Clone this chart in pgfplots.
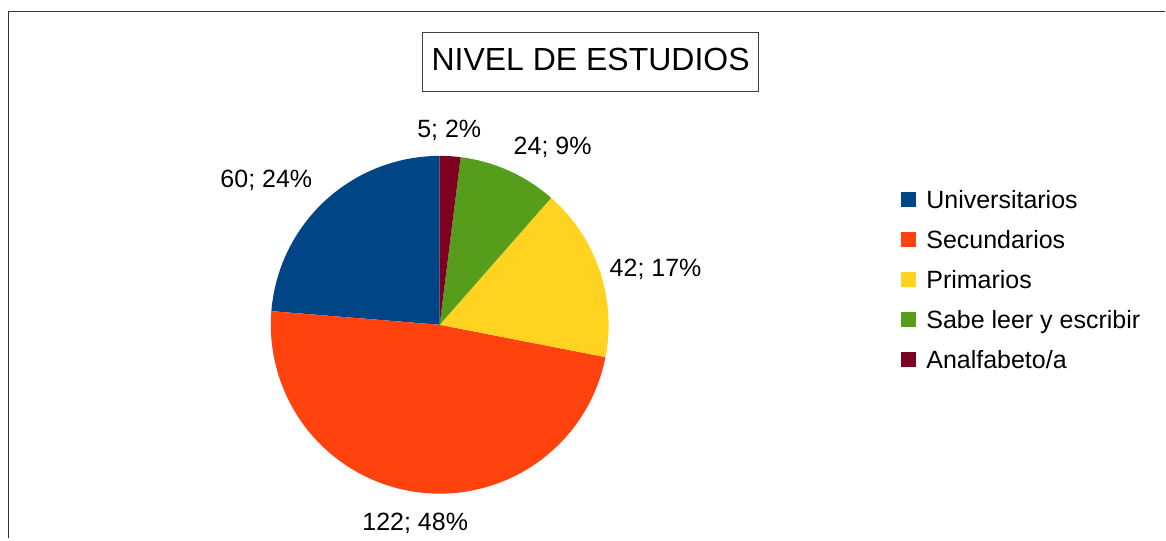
\documentclass[border=0pt]{standalone}
\usepackage{fontspec}
\setmainfont{Liberation Sans}
\usepackage{pgfplots}
\pgfplotsset{compat=1.18}
\definecolor{cuni}{HTML}{004586}
\definecolor{csec}{HTML}{FF420E}
\definecolor{cpri}{HTML}{FFD320}
\definecolor{csab}{HTML}{579D1C}
\definecolor{cana}{HTML}{7E0021}
% data (counts)
\def\vA{60}\def\vB{122}\def\vC{42}\def\vD{24}\def\vE{5}
\pgfmathsetmacro\tot{\vA+\vB+\vC+\vD+\vE}
\pgfmathsetmacro\aA{90}
\pgfmathsetmacro\aB{\aA+360*(\vA/\tot)}
\pgfmathsetmacro\aC{\aB+360*(\vB/\tot)}
\pgfmathsetmacro\aD{\aC+360*(\vC/\tot)}
\pgfmathsetmacro\aE{\aD+360*(\vD/\tot)}
\pgfmathsetmacro\aF{450}
\newcommand{\lblfont}{\fontsize{12.5}{15}\selectfont}
\begin{document}
\begin{tikzpicture}
\begin{axis}[
  width=583pt, height=269pt, scale only axis,
  xmin=0, xmax=1166, ymin=0, ymax=538,
  hide axis, clip=false,
  legend image code/.code={\fill[#1] (0pt,0.72pt) rectangle (7.5pt,8.22pt);},
  legend cell align=left,
  legend style={at={(axis cs:902,347)}, anchor=north west, draw=none, fill=none,
    inner sep=0pt, outer sep=0pt, row sep=8.5pt, font=\lblfont,
    nodes={inner sep=0pt, anchor=base west, text height=9pt, text depth=2.5pt},
    /tikz/every odd column/.append style={column sep=5pt}},
]
\path (axis cs:0,0) rectangle (axis cs:1166,538);
\addplot[fill=cuni, draw=none, domain=\aA:\aB, samples=80] ({440+169*cos(x)},{213+169*sin(x)}) -- (axis cs:440,213) -- cycle;
\addplot[fill=csec, draw=none, domain=\aB:\aC, samples=150] ({440+169*cos(x)},{213+169*sin(x)}) -- (axis cs:440,213) -- cycle;
\addplot[fill=cpri, draw=none, domain=\aC:\aD, samples=60] ({440+169*cos(x)},{213+169*sin(x)}) -- (axis cs:440,213) -- cycle;
\addplot[fill=csab, draw=none, domain=\aD:\aE, samples=40] ({440+169*cos(x)},{213+169*sin(x)}) -- (axis cs:440,213) -- cycle;
\addplot[fill=cana, draw=none, domain=\aE:\aF, samples=15] ({440+169*cos(x)},{213+169*sin(x)}) -- (axis cs:440,213) -- cycle;
\legend{Universitarios, Secundarios, Primarios, Sabe leer y escribir, Analfabeto/a}
% data labels
\node[anchor=base, font=\lblfont] at (axis cs:266.5,350) {60; 24\%};
\node[anchor=base, font=\lblfont] at (axis cs:415.5,7) {122; 48\%};
\node[anchor=base, font=\lblfont] at (axis cs:656,261.5) {42; 17\%};
\node[anchor=base, font=\lblfont] at (axis cs:553,383) {24; 9\%};
\node[anchor=base, font=\lblfont] at (axis cs:449.5,400) {5; 2\%};
% title box
\draw[line width=0.5pt, black!75] (axis cs:423,446) rectangle (axis cs:759,505);
\node[anchor=base, font=\fontsize{16}{19}\selectfont] at (axis cs:591,467) {NIVEL DE ESTUDIOS};
% outer frame (partial)
\draw[line width=0.8pt, black!80] (axis cs:8.5,0) -- (axis cs:8.5,526.5) -- (axis cs:1166,526.5);
\end{axis}
\end{tikzpicture}
\end{document}
